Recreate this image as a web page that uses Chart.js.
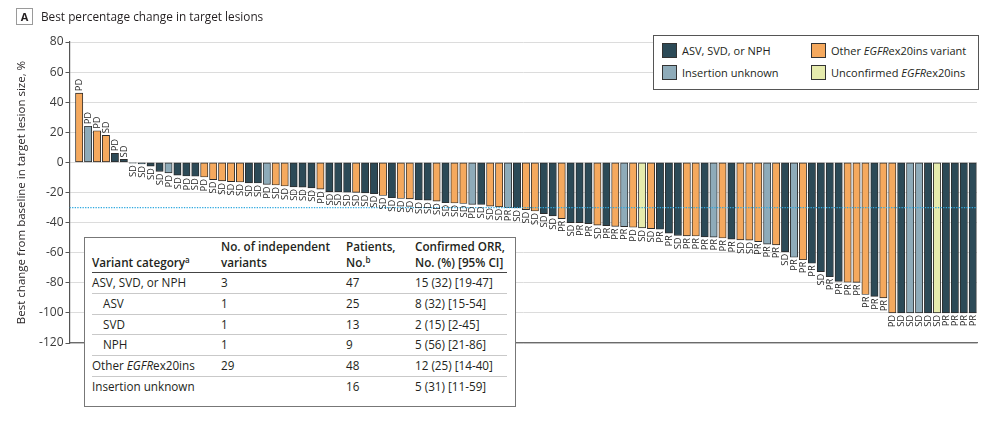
<!DOCTYPE html>
<html>
<head>
<meta charset="utf-8">
<script src="https://cdn.jsdelivr.net/npm/chart.js@4.4.1/dist/chart.umd.min.js"></script>
<style>
  html, body { margin: 0; padding: 0; background: #fff; }
  body { font-family: 'Open Sans', sans-serif; color: #231f20; }
  #wrap { position: relative; width: 999px; height: 421px; overflow: hidden; }
  #chart { position: absolute; left: 0; top: 0; }
  .panel-letter { position: absolute; left: 16px; top: 8px; width: 17px; height: 17px; box-sizing: border-box;
    border: 1px solid #9a9a9a; font-weight: 700; font-size: 11px; line-height: 15px; text-align: center; }
  .panel-title { position: absolute; left: 41px; top: 8px; font-size: 11.8px; line-height: 17px; }
  .legend { position: absolute; left: 653px; top: 35px; width: 326px; height: 55px; box-sizing: border-box;
    border: 1px solid #555; background: #fff; font-size: 11px; }
  .legend .item { position: absolute; height: 16px; line-height: 16px; white-space: nowrap; }
  .legend .sw { display: inline-block; width: 15px; height: 15px; box-sizing: border-box; border: 1px solid #333;
    vertical-align: top; margin-right: 5px; }
  .tbox { position: absolute; left: 84px; top: 237px; width: 432px; height: 170px; box-sizing: border-box;
    border: 1.5px solid #777; background: #fff; }
  .tbox table { position: absolute; left: 7px; top: 0; width: 415px; border-collapse: collapse; table-layout: fixed;
    font-size: 11.7px; }
  .tbox th { font-weight: 600; text-align: left; vertical-align: bottom; line-height: 16px; padding: 0 0 2px 0;
    height: 22px; border-bottom: 1.2px solid #444; }
  .tbox td { height: 19.8px; padding: 0; line-height: 19.8px; border-bottom: 1px solid #c9c9c9; white-space: nowrap; }
  .tbox tr:last-child td { border-bottom: none; }
  .tbox td.ind { padding-left: 11px; }
  sup { font-size: 8px; line-height: 0; vertical-align: 4px; }
</style>
</head>
<body>
<div id="wrap">
  <canvas id="chart" width="999" height="421"></canvas>
  <div class="panel-letter">A</div>
  <div class="panel-title">Best percentage change in target lesions</div>
  <div class="legend" id="legend"></div>
  <div class="tbox">
    <table>
      <colgroup><col style="width:129px"><col style="width:125px"><col style="width:69px"><col style="width:92px"></colgroup>
      <thead id="thead"></thead>
      <tbody id="tbody"></tbody>
    </table>
  </div>
</div>
<script>
// best % change in target lesion size, one entry per patient (sorted)
const bestChange = [
  46, 24, 21, 18, 6, 2, -0.5, -1, -2.5, -6,
  -7, -8.5, -9, -9.2, -9.7, -11.4, -12.3, -12.8, -13, -13.6,
  -13.7, -14.6, -15, -15.7, -16.3, -16.4, -16.9, -17.8, -19.4, -19.5,
  -19.8, -19.9, -20.2, -20.8, -22, -23.5, -24, -24.2, -25, -25.1,
  -25.7, -26.8, -27, -27.3, -27.9, -28, -29, -29.5, -30.1, -30.2,
  -31.4, -32.3, -34, -35.5, -37.4, -40, -40, -40.7, -41.7, -42,
  -42.5, -42.7, -43.1, -43.5, -44, -44.4, -47, -48.5, -48.8, -48.9,
  -49.5, -49.6, -50.2, -51, -51.5, -51.6, -52.6, -54.3, -54.8, -59.4,
  -63, -64.7, -67, -72.6, -76, -79, -79.6, -79.7, -87.8, -89,
  -90, -100, -100, -100, -100, -100, -100, -100, -100, -100,
  -100
];
// variant group: A = ASV/SVD/NPH, O = other ex20ins, U = insertion unknown, N = unconfirmed
const variantGroup = [
  'O','U','O','O','A','A','A','A','A','A',
  'U','A','A','A','O','O','O','O','O','A',
  'A','U','O','O','A','A','A','O','A','A',
  'A','O','A','A','O','A','O','O','A','A',
  'O','A','O','O','U','A','O','O','U','A',
  'O','O','A','A','O','A','A','A','O','A',
  'O','U','O','N','O','A','A','A','O','O',
  'A','U','O','A','O','O','O','U','O','A',
  'U','O','A','A','A','A','O','O','O','A',
  'O','O','A','U','U','A','N','A','A','A',
  'A'
];
// best overall response
const bestResponse = [
  'PD','PD','PD','SD','PD','SD','SD','SD','SD','SD',
  'PD','SD','PD','SD','PD','SD','SD','SD','SD','SD',
  'SD','PD','SD','SD','SD','SD','SD','PD','SD','SD',
  'SD','SD','SD','SD','SD','SD','SD','SD','SD','SD',
  'SD','SD','SD','SD','PD','SD','SD','SD','PR','SD',
  'SD','SD','SD','SD','PR','SD','PR','PR','SD','PR',
  'PR','PR','PD','SD','SD','PR','PR','SD','PR','PR',
  'PR','PR','PR','PR','SD','SD','PR','PR','PR','SD',
  'PR','PR','PR','SD','PR','PR','PR','PR','PR','PR',
  'PR','PD','SD','SD','SD','SD','SD','PR','PR','PR',
  'PR'
];
const responseThreshold = -30;
const yTicks = [80, 60, 40, 20, 0, -20, -40, -60, -80, -100, -120];

const groupInfo = {
  A: { label: 'ASV, SVD, or NPH', color: '#2c4a57' },
  O: { label: 'Other <i>EGFR</i>ex20ins variant', color: '#f5a95e' },
  U: { label: 'Insertion unknown', color: '#8eabb9' },
  N: { label: 'Unconfirmed <i>EGFR</i>ex20ins', color: '#e6ebad' }
};
const legendOrder = ['A', 'O', 'U', 'N'];

const tableHead = ['Variant category<sup>a</sup>', 'No. of independent<br>variants', 'Patients,<br>No.<sup>b</sup>', 'Confirmed ORR,<br>No. (%) [95% CI]'];
const tableRows = [
  ['ASV, SVD, or NPH', '3', '47', '15 (32) [19-47]', false],
  ['ASV', '1', '25', '8 (32) [15-54]', true],
  ['SVD', '1', '13', '2 (15) [2-45]', true],
  ['NPH', '1', '9', '5 (56) [21-86]', true],
  ['Other <i>EGFR</i>ex20ins', '29', '48', '12 (25) [14-40]', false],
  ['Insertion unknown', '', '16', '5 (31) [11-59]', false]
];

// legend
const legendPos = [[8, 7], [157, 7], [8, 29], [157, 29]];
document.getElementById('legend').innerHTML = legendOrder.map((g, i) =>
  `<div class="item" style="left:${legendPos[i][0]}px;top:${legendPos[i][1]}px"><span class="sw" style="background:${groupInfo[g].color}"></span>${groupInfo[g].label}</div>`
).join('');

// table
document.getElementById('thead').innerHTML = '<tr>' + tableHead.map(h => `<th>${h}</th>`).join('') + '</tr>';
document.getElementById('tbody').innerHTML = tableRows.map(r =>
  `<tr><td class="${r[4] ? 'ind' : ''}">${r[0]}</td><td>${r[1]}</td><td>${r[2]}</td><td>${r[3]}</td></tr>`
).join('');

const xMin = -1.08, xMax = bestChange.length - 1 + 0.48;
const FONT = "'Open Sans', sans-serif";

const barLabels = {
  id: 'barLabels',
  afterDatasetsDraw(chart) {
    const meta = chart.getDatasetMeta(0);
    const ctx = chart.ctx;
    ctx.save();
    ctx.font = `9.4px ${FONT}`;
    ctx.fillStyle = '#1f1f1f';
    ctx.textBaseline = 'middle';
    meta.data.forEach((bar, i) => {
      const v = bestChange[i];
      ctx.save();
      if (v >= 0) {
        ctx.translate(bar.x, bar.y - 2);
        ctx.rotate(-Math.PI / 2);
        ctx.textAlign = 'left';
      } else {
        ctx.translate(bar.x, bar.y + 2);
        ctx.rotate(-Math.PI / 2);
        ctx.textAlign = 'right';
      }
      ctx.fillText(bestResponse[i], 0, 0.5);
      ctx.restore();
    });
    ctx.restore();
  }
};

new Chart(document.getElementById('chart'), {
  data: {
    datasets: [
      {
        type: 'bar',
        data: bestChange.map((v, i) => ({ x: i, y: v })),
        backgroundColor: variantGroup.map(g => groupInfo[g].color),
        borderColor: '#2b2b2b',
        borderWidth: 0.9,
        borderSkipped: false,
        barThickness: 7.3,
        order: 2
      },
      {
        type: 'line',
        data: [{ x: xMin, y: responseThreshold }, { x: xMax, y: responseThreshold }],
        borderColor: '#2fa9e0',
        borderWidth: 1.3,
        borderDash: [1.3, 1.3],
        pointRadius: 0,
        order: 1
      }
    ]
  },
  options: {
    responsive: false,
    animation: false,
    devicePixelRatio: 1,
    layout: { padding: { top: 42, right: 22, bottom: 78, left: 0 } },
    plugins: { legend: { display: false }, tooltip: { enabled: false } },
    scales: {
      x: {
        type: 'linear',
        offset: false,
        min: xMin,
        max: xMax,
        ticks: { display: false },
        grid: { display: false, drawTicks: false, offset: false },
        border: { display: true, color: '#6b6b6b', width: 1.2 },
        afterFit(s) { s.height = 0; }
      },
      y: {
        min: -120,
        max: 80,
        afterBuildTicks(s) { s.ticks = yTicks.map(v => ({ value: v })); },
        ticks: { color: '#3a3a3a', font: { family: FONT, size: 12 }, padding: 2 },
        grid: { color: '#dcdcdc', lineWidth: 1, tickLength: 4, tickColor: '#555' },
        border: { display: true, color: '#555', width: 1.2 },
        title: {
          display: true,
          text: 'Best change from baseline in target lesion size, %',
          color: '#231f20',
          font: { family: FONT, size: 11.5 },
          padding: { top: 15, bottom: 0 }
        },
        afterFit(s) { s.width = 69.5; }
      }
    }
  },
  plugins: [barLabels]
});
</script>
</body>
</html>
